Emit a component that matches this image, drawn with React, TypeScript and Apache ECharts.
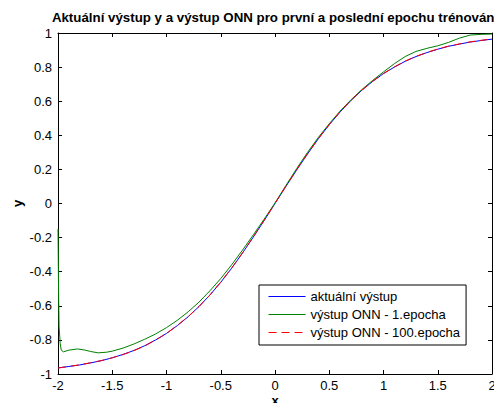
import React, { useEffect, useRef } from "react";
import * as echarts from "echarts";

const titleText = "Aktuální výstup y a výstup ONN pro první a poslední epochu trénování";
const seriesNames = ["aktuální výstup", "výstup ONN - 1.epocha", "výstup ONN - 100.epocha"];

const xGrid = [
  -2, -1.9, -1.8, -1.7, -1.6, -1.5, -1.4, -1.3, -1.2, -1.1, -1, -0.9, -0.8, -0.7, -0.6, -0.5, -0.4, -0.3, -0.2, -0.1,
  0, 0.1, 0.2, 0.3, 0.4, 0.5, 0.6, 0.7, 0.8, 0.9, 1, 1.1, 1.2, 1.3, 1.4, 1.5, 1.6, 1.7, 1.8, 1.9, 2,
];
const actualOut = [
  -0.964, -0.956, -0.947, -0.935, -0.922, -0.905, -0.885, -0.862, -0.834, -0.8, -0.762, -0.716, -0.664, -0.604, -0.537,
  -0.462, -0.38, -0.291, -0.197, -0.1, 0, 0.1, 0.197, 0.291, 0.38, 0.462, 0.537, 0.604, 0.664, 0.716, 0.762, 0.8,
  0.834, 0.862, 0.885, 0.905, 0.922, 0.935, 0.947, 0.956, 0.964,
];
const epoch100Out = [
  -0.965, -0.956, -0.946, -0.934, -0.921, -0.905, -0.886, -0.863, -0.835, -0.801, -0.762, -0.715, -0.663, -0.604, -0.537,
  -0.461, -0.379, -0.29, -0.196, -0.099, 0.001, 0.101, 0.198, 0.292, 0.381, 0.463, 0.538, 0.605, 0.665, 0.717, 0.763,
  0.801, 0.835, 0.863, 0.886, 0.906, 0.923, 0.936, 0.948, 0.957, 0.965,
];
const xEpoch1 = [
  -2, -1.995, -1.99, -1.98, -1.97, -1.95, -1.9, -1.82, -1.75, -1.7, -1.63, -1.55, -1.5, -1.4, -1.3, -1.2, -1.1, -1,
  -0.9, -0.8, -0.7, -0.6, -0.5, -0.4, -0.3, -0.2, -0.1, 0, 0.1, 0.2, 0.3, 0.4, 0.5, 0.6, 0.7, 0.8, 0.9, 1, 1.1, 1.2,
  1.3, 1.4, 1.5, 1.6, 1.7, 1.8, 1.9, 2,
];
const epoch1Out = [
  -0.15, -0.5, -0.72, -0.82, -0.86, -0.87, -0.86, -0.853, -0.86, -0.868, -0.876, -0.872, -0.866, -0.848, -0.824,
  -0.796, -0.765, -0.728, -0.685, -0.635, -0.578, -0.512, -0.44, -0.36, -0.274, -0.184, -0.092, 0.003, 0.105, 0.205,
  0.3, 0.388, 0.468, 0.542, 0.608, 0.668, 0.722, 0.772, 0.82, 0.862, 0.892, 0.91, 0.925, 0.945, 0.97, 0.988, 0.992,
  0.994,
];

const FONT = "'Liberation Sans', Arial, sans-serif";

export default function App() {
  const ref = useRef<HTMLDivElement>(null);
  useEffect(() => {
    if (!ref.current) return;
    const chart = echarts.init(ref.current, null, { renderer: "svg" });
    const pairs = (xs: number[], ys: number[]) => xs.map((x, i) => [x, ys[i]]);
    const axisCommon = {
      axisLine: { show: true, onZero: false, lineStyle: { color: "#000", width: 1 } },
      axisTick: { show: true, inside: true, length: 4, lineStyle: { color: "#000" } },
      splitLine: { show: false },
    };
    chart.setOption({
      animation: false,
      backgroundColor: "#fff",
      textStyle: { fontFamily: FONT },
      title: {
        text: titleText,
        left: 275,
        top: 11,
        padding: 0,
        textAlign: "center",
        textStyle: { fontFamily: FONT, fontSize: 13.3, fontWeight: "bold", color: "#000" },
      },
      grid: { left: 58, right: 2, top: 33, bottom: 29, containLabel: false, outerBoundsMode: "none" },
      legend: {
        orient: "vertical",
        left: 259,
        top: 285,
        padding: [5, 6, 6, 9],
        itemWidth: 37,
        itemHeight: 14,
        itemGap: 5,
        backgroundColor: "#fff",
        borderColor: "#000",
        borderWidth: 1,
        borderRadius: 0,
        itemStyle: { opacity: 0 },
        lineStyle: { width: 1 },
        textStyle: { fontFamily: FONT, fontSize: 13, color: "#000", padding: [0, 0, 0, 0] },
        data: seriesNames,
      },
      xAxis: [
        {
          type: "value",
          min: -2,
          max: 2,
          interval: 0.5,
          name: "x",
          nameLocation: "middle",
          nameGap: 26,
          nameMoveOverlap: false,
          nameTextStyle: {
            fontFamily: FONT,
            fontSize: 13,
            fontWeight: "bold",
            color: "#000",
            verticalAlign: "middle",
          },
          axisLabel: { color: "#000", fontSize: 13, fontFamily: FONT, margin: 5 },
          ...axisCommon,
        },
        {
          type: "value",
          position: "top",
          min: -2,
          max: 2,
          interval: 0.5,
          axisLabel: { show: false },
          ...axisCommon,
        },
      ],
      yAxis: [
        {
          type: "value",
          min: -1,
          max: 1,
          interval: 0.2,
          name: "y",
          nameLocation: "middle",
          nameGap: 41,
          nameRotate: 90,
          nameMoveOverlap: false,
          nameTextStyle: {
            fontFamily: FONT,
            fontSize: 13,
            fontWeight: "bold",
            color: "#000",
            verticalAlign: "middle",
          },
          axisLabel: { color: "#000", fontSize: 13, fontFamily: FONT, margin: 6 },
          ...axisCommon,
        },
        {
          type: "value",
          position: "right",
          min: -1,
          max: 1,
          interval: 0.2,
          axisLabel: { show: false },
          ...axisCommon,
        },
      ],
      series: [
        {
          name: seriesNames[0],
          type: "line",
          data: pairs(xGrid, actualOut),
          symbol: "none",
          lineStyle: { color: "#0000ff", width: 1 },
          itemStyle: { color: "#0000ff" },
        },
        {
          name: seriesNames[1],
          type: "line",
          data: pairs(xEpoch1, epoch1Out),
          symbol: "none",
          lineStyle: { color: "#008000", width: 1 },
          itemStyle: { color: "#008000" },
        },
        {
          name: seriesNames[2],
          type: "line",
          data: pairs(xGrid, epoch100Out),
          symbol: "none",
          lineStyle: { color: "#ff0000", width: 1, type: [8, 5] },
          itemStyle: { color: "#ff0000" },
        },
      ],
    });
    return () => chart.dispose();
  }, []);
  return (
    <div
      ref={ref}
      style={{ position: "fixed", left: 0, top: 0, width: 494, height: 403, background: "#fff" }}
    />
  );
}
